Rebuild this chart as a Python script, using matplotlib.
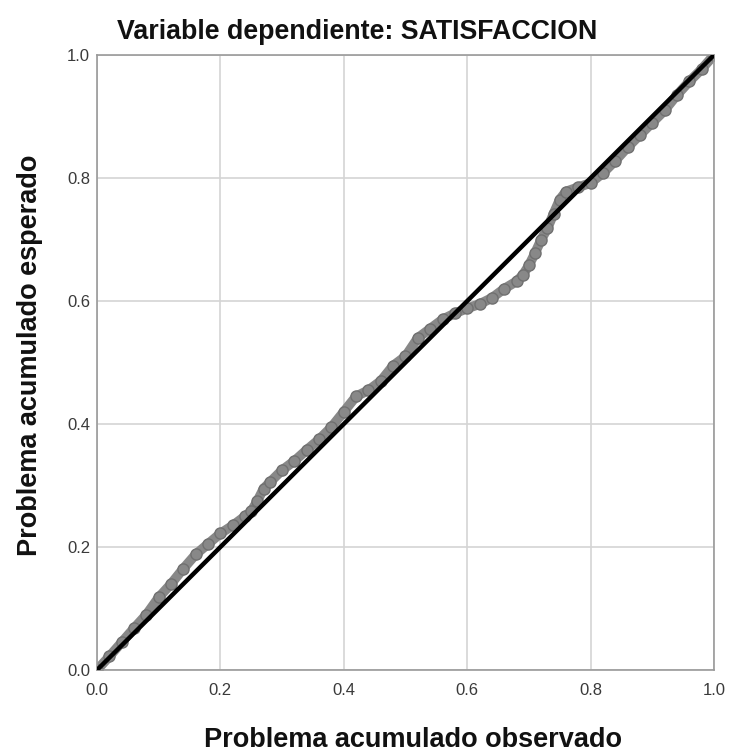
import matplotlib
matplotlib.use("Agg")
import matplotlib.pyplot as plt

# Observed cumulative probability (x) vs expected cumulative probability (y)
observed = [0.00, 0.02, 0.04, 0.06, 0.08, 0.10, 0.12, 0.14, 0.16, 0.18,
            0.20, 0.22, 0.24, 0.25, 0.26, 0.27, 0.28, 0.30, 0.32, 0.34,
            0.36, 0.38, 0.40, 0.42, 0.44, 0.46, 0.48, 0.50, 0.52, 0.54,
            0.56, 0.58, 0.60, 0.62, 0.64, 0.66, 0.68, 0.69, 0.70, 0.71,
            0.72, 0.73, 0.74, 0.75, 0.76, 0.78, 0.80, 0.82, 0.84, 0.86,
            0.88, 0.90, 0.92, 0.94, 0.96, 0.98, 1.00]
expected = [0.000, 0.022, 0.045, 0.068, 0.090, 0.118, 0.140, 0.165, 0.188, 0.205,
            0.222, 0.235, 0.250, 0.258, 0.275, 0.295, 0.305, 0.325, 0.340, 0.358,
            0.375, 0.395, 0.420, 0.445, 0.455, 0.470, 0.495, 0.510, 0.540, 0.555,
            0.570, 0.580, 0.588, 0.595, 0.605, 0.620, 0.632, 0.642, 0.658, 0.678,
            0.700, 0.718, 0.742, 0.765, 0.778, 0.785, 0.792, 0.808, 0.828, 0.850,
            0.870, 0.890, 0.910, 0.935, 0.957, 0.977, 1.000]
ticks = [0.0, 0.2, 0.4, 0.6, 0.8, 1.0]
tick_labels = ["0.0", "0.2", "0.4", "0.6", "0.8", "1.0"]
title = "Variable dependiente: SATISFACCION"
xlabel = "Problema acumulado observado"
ylabel = "Problema acumulado esperado"

plt.rcParams['font.family'] = ['Liberation Sans', 'DejaVu Sans']

fig = plt.figure(figsize=(7.31, 7.54), dpi=100)
ax = fig.add_axes([0.1327, 0.1114, 0.8440, 0.8156])

ax.plot(observed, expected, color='#888888', lw=7, solid_capstyle='round',
        marker='o', markersize=8, markerfacecolor='#888888',
        markeredgecolor='#707070', markeredgewidth=1, zorder=2)
ax.plot([0, 1], [0, 1], color='black', lw=3.2, zorder=3)

ax.set_xlim(0, 1)
ax.set_ylim(0, 1)
ax.set_xticks(ticks)
ax.set_xticklabels(tick_labels)
ax.set_yticks(ticks)
ax.set_yticklabels(tick_labels)
ax.tick_params(length=0, labelsize=12, labelcolor='#3a3a3a', pad=5)
ax.tick_params(axis='x', pad=9)
ax.grid(True, color='#d4d4d4', lw=1.2)
ax.set_axisbelow(True)
for s in ax.spines.values():
    s.set_color('#9a9a9a')
    s.set_linewidth(1.2)

fig.text(0.489, 0.957, title, fontsize=19.3, fontweight='bold',
         color='#111111', ha='center', va='center')
fig.text(0.565, 0.019, xlabel, fontsize=19.5, fontweight='bold',
         color='#111111', ha='center', va='center')
fig.text(0.041, 0.529, ylabel, fontsize=19.5, fontweight='bold',
         color='#111111', ha='center', va='center', rotation=90)

fig.savefig('out.png', dpi=100, facecolor='white')
